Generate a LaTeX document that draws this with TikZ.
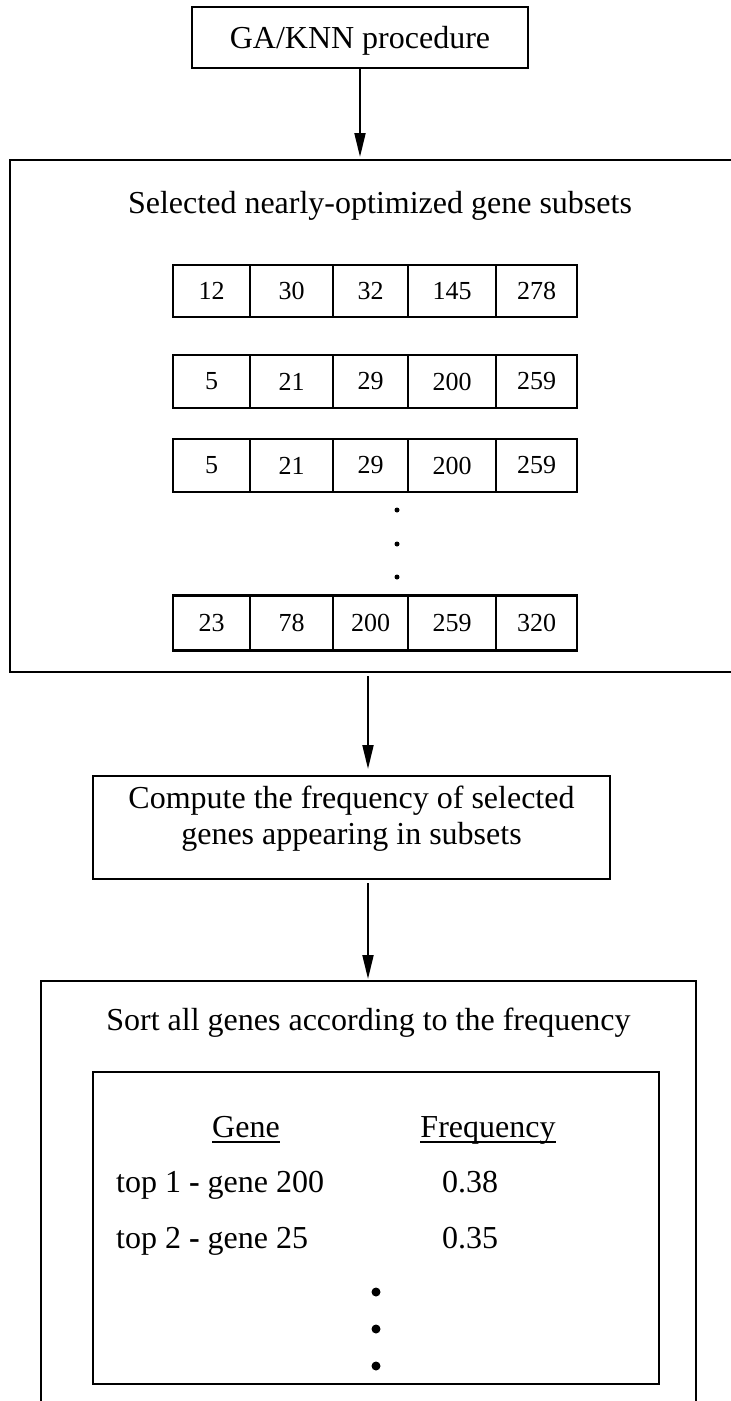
\documentclass[tikz,border=0pt]{standalone}
\usepackage{fontspec}
\setmainfont{Liberation Serif}
\usetikzlibrary{arrows.meta}
\begin{document}
\begin{tikzpicture}[x=1pt,y=-1pt,
  every node/.style={font=\fontsize{32}{36}\selectfont},
  box/.style={draw, line width=2pt, rectangle, inner sep=0pt},
  cell/.style={draw, line width=2.2pt, rectangle, inner sep=0pt, font=\fontsize{26}{30}\selectfont},
  txt/.style={inner sep=0pt},
  arr/.style={line width=2pt, -{Triangle[length=24pt,width=11pt]}},
  sdot/.style={circle, fill, inner sep=0pt, minimum size=5pt},
  bdot/.style={circle, fill, inner sep=0pt, minimum size=9pt}]
\useasboundingbox (0,0) rectangle (731,1401);
\clip (0,0) rectangle (731,1401);

% top box
\node[box, minimum width=336, minimum height=61] (ga) at (360,37.5) {\rule{0pt}{28pt}GA/KNN procedure};

% selected subsets box
\node[box, minimum width=750, minimum height=512] (sel) at (385,416) {};
\node[txt, anchor=base] (selt) at (380,213) {Selected nearly-optimized gene subsets};

\foreach \c/\x/\w/\v in {1/211.5/77/12, 2/291.5/83/30, 3/370.5/75/32, 4/452/88/145, 5/536.5/81/278}
  \node[cell, minimum width=\w, minimum height=52] (ra\c) at (\x,291) {\v};
\foreach \c/\x/\w/\v in {1/211.5/77/5, 2/291.5/83/21, 3/370.5/75/29, 4/452/88/200, 5/536.5/81/259}
  \node[cell, minimum width=\w, minimum height=53] (rb\c) at (\x,381.5) {\v};
\foreach \c/\x/\w/\v in {1/211.5/77/5, 2/291.5/83/21, 3/370.5/75/29, 4/452/88/200, 5/536.5/81/259}
  \node[cell, minimum width=\w, minimum height=53] (rc\c) at (\x,465.5) {\v};
\foreach \c/\x/\w/\v in {1/211.5/77/23, 2/291.5/83/78, 3/370.5/75/200, 4/452/88/259, 5/536.5/81/320}
  \node[cell, minimum width=\w, minimum height=55] (rd\c) at (\x,623) {\v};

\node[sdot] (sd1) at (397,510) {};
\node[sdot] (sd2) at (397,544) {};
\node[sdot] (sd3) at (397,577) {};

% compute box
\node[box, minimum width=517, minimum height=103, align=center] (comp) at (351.5,827.5)
  {Compute the frequency of selected\\genes appearing in subsets\rule[-25pt]{0pt}{1pt}};

% sort box
\node[box, minimum width=655, minimum height=449] (sort) at (368.5,1205.5) {};
\node[txt, anchor=base] (sortt) at (368.5,1030) {Sort all genes according to the frequency};
\node[box, minimum width=566, minimum height=312] (inner) at (376,1228) {};

\node[txt, anchor=base] (gh) at (246,1137) {Gene};
\node[txt, anchor=base] (fh) at (488,1137) {Frequency};
\draw[line width=1.8pt] ([yshift=-5pt]gh.base west) -- ([yshift=-5pt]gh.base east);
\draw[line width=1.8pt] ([yshift=-5pt]fh.base west) -- ([yshift=-5pt]fh.base east);
\node[txt, anchor=base west] (t1) at (116,1192) {top 1 \textbf{-} gene 200};
\node[txt, anchor=base west] (f1) at (442,1192) {0.38};
\node[txt, anchor=base west] (t2) at (116,1248) {top 2 \textbf{-} gene 25};
\node[txt, anchor=base west] (f2) at (442,1248) {0.35};

\node[bdot] (bd1) at (376,1292) {};
\node[bdot] (bd2) at (376,1329) {};
\node[bdot] (bd3) at (376,1366) {};

% connectors
\coordinate (ax) at (368,0);
\draw[arr, shorten >=2pt] (ga.south) -- (ga.south |- sel.north);
\draw[arr, shorten <=3pt, shorten >=6pt] (ax |- sel.south) -- (ax |- comp.north);
\draw[arr, shorten <=3pt, shorten >=1pt] (ax |- comp.south) -- (ax |- sort.north);
\end{tikzpicture}
\end{document}
